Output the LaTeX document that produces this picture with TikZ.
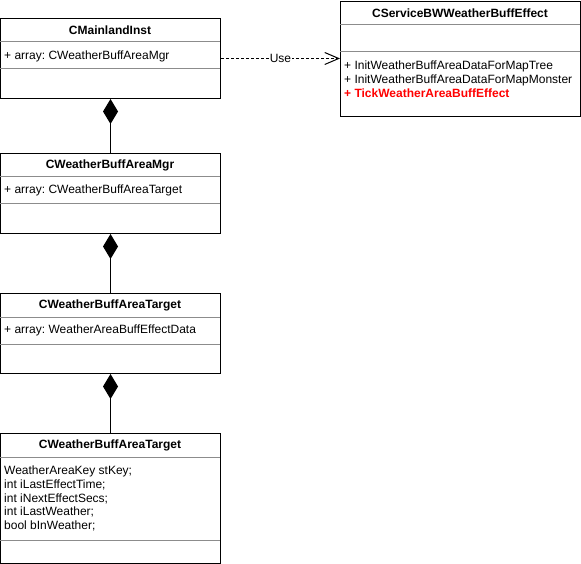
\documentclass[tikz,border=0pt]{standalone}
\usepackage{fontspec}
\setmainfont{Liberation Sans}
\usepackage{xcolor}
\usepackage{tikz}
\usetikzlibrary{positioning, calc, arrows.meta}
\frenchspacing

\tikzset{
	classbox/.style={draw, line width=1pt, anchor=north west, inner sep=0pt, minimum width=220pt},
	sepline/.style={draw=black!45, line width=1pt},
	cname/.style={font=\fontsize{12}{14}\selectfont\bfseries, inner sep=0pt},
	member/.style={font=\fontsize{12}{13.8}\selectfont, anchor=west, align=left, inner sep=0pt},
	comp/.style={line width=1pt, {Diamond[length=25pt, width=15pt]}-},
	usedep/.style={line width=0.8pt, dash pattern=on 3pt off 2pt, -{Straight Barb[length=14pt, width=12pt, line width=1pt]}}
}

\begin{document}
\begin{tikzpicture}[x=1pt, y=-1pt]
		\useasboundingbox (0,0) rectangle (581,564);
		
		%//class boxes, from the top
		
		\node [classbox, minimum height=80pt] (inst) at (0,18) {};
		\node [cname] (instname) at (110,30) {CMainlandInst};
		\foreach \y in {42, 69}
		\draw [sepline] (0,\y) -- (220,\y);
		\node [member] (instattr) at (4,56) {+ array: CWeatherBuffAreaMgr};
		
		\node [classbox, minimum height=80pt] (mgr) at (0,153) {};
		\node [cname] (mgrname) at (110,165) {CWeatherBuffAreaMgr};
		\foreach \y in {177, 204}
		\draw [sepline] (0,\y) -- (220,\y);
		\node [member] (mgrattr) at (4,190) {+ array: CWeatherBuffAreaTarget};
		
		\node [classbox, minimum height=80pt] (tgt) at (0,293) {};
		\node [cname] (tgtname) at (110,305) {CWeatherBuffAreaTarget};
		\foreach \y in {317, 344}
		\draw [sepline] (0,\y) -- (220,\y);
		\node [member] (tgtattr) at (4,330) {+ array: WeatherAreaBuffEffectData};
		
		\node [classbox, minimum height=130pt] (data) at (0,433) {};
		\node [cname] (dataname) at (110,445) {CWeatherBuffAreaTarget};
		\foreach \y in {457, 540}
		\draw [sepline] (0,\y) -- (220,\y);
		\node [member] (dataattr) at (4,498.5) {WeatherAreaKey stKey;\\int iLastEffectTime;\\int iNextEffectSecs;\\int iLastWeather;\\bool bInWeather;};
		
		%//service box
		
		\node [classbox, minimum width=240pt, minimum height=115pt] (svc) at (340,1) {};
		\node [cname] (svcname) at (460,13) {CServiceBWWeatherBuffEffect};
		\foreach \y in {25, 52}
		\draw [sepline] (340,\y) -- (580,\y);
		\node [member] (svcops) at (344,79.5) {+ InitWeatherBuffAreaDataForMapTree\\+ InitWeatherBuffAreaDataForMapMonster\\\textcolor{red}{\bfseries + TickWeatherAreaBuffEffect}};
		
		%//connectors
		
		\draw [comp] (inst.south) -- (mgr.north);
		\draw [comp] (mgr.south) -- (tgt.north);
		\draw [comp] (tgt.south) -- (data.north);
		
		\draw [usedep] (inst.east) -- node [fill=white, inner sep=1pt, font=\fontsize{12}{14}\selectfont] (uselabel) {Use} (inst.east -| svc.west);
		\end{tikzpicture}
\end{document}
